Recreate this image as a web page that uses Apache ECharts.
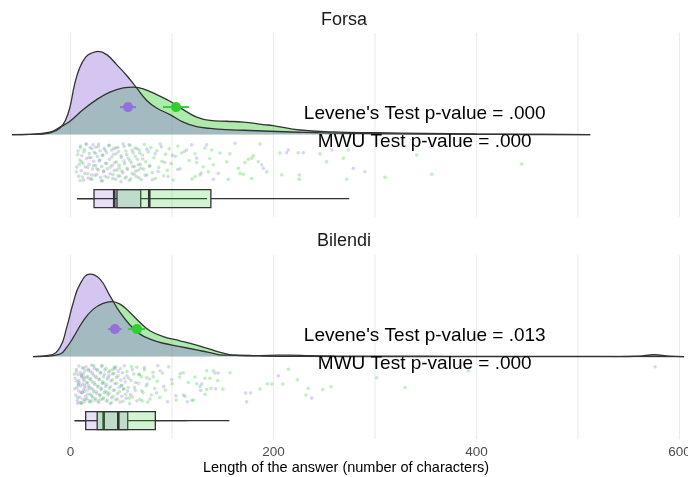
<!DOCTYPE html>
<html><head><meta charset="utf-8">
<script src="https://cdn.jsdelivr.net/npm/echarts@6/dist/echarts.min.js"></script>
<style>html,body{margin:0;padding:0;background:#fff}#c{width:688px;height:477px}</style>
</head><body><div id="c"></div>
<script>
// ---------------- DATA ----------------
const panels = ['Forsa', 'Bilendi'];
const xTicks = [0, 200, 400, 600];
const xGridLines = [0, 100, 200, 300, 400, 500, 600];
const xTitle = 'Length of the answer (number of characters)';

// density curves: [length, relative density]
const forsaDensityPurple = [[-57.6,0],[-40,0.002],[-26.8,0.008],[-18,0.03],[-10.3,0.08],[-5,0.17],[-0.5,0.33],[4,0.6],[9,0.8],[15,0.93],[21,0.98],[27.4,1.0],[35.7,0.96],[45.5,0.84],[55.4,0.71],[65.2,0.56],[75.1,0.41],[84.9,0.32],[98,0.24],[111.1,0.15],[124.3,0.095],[137.4,0.075],[153.9,0.06],[170.2,0.052],[196.6,0.04],[225,0.028],[250,0.02],[300,0.012],[350,0.007],[400,0.003],[450,0.001],[512,0]];
const forsaDensityGreen = [[-57.6,0],[-40,0.003],[-20.2,0.028],[-10.3,0.09],[-0.5,0.16],[12.6,0.30],[25.8,0.42],[38.9,0.51],[52,0.56],[61.9,0.57],[71.7,0.55],[84.9,0.48],[98,0.40],[111.1,0.30],[124.3,0.21],[137.4,0.17],[153.9,0.16],[170.2,0.15],[190,0.12],[199.5,0.108],[226,0.055],[258.6,0.032],[300,0.022],[350,0.014],[400,0.007],[450,0.003],[512,0]];
const bilendiDensityPurple = [[-36.7,0],[-20.2,0.017],[-10.3,0.11],[-3.7,0.35],[2.8,0.65],[9.4,0.87],[19.2,0.99],[29.1,0.93],[38.9,0.73],[48.8,0.53],[58.6,0.38],[68.5,0.27],[78.3,0.21],[91.4,0.16],[107.9,0.12],[124.3,0.08],[137.4,0.048],[150.5,0.017],[163.7,0.018],[176.8,0.015],[189.7,0.006],[230,0.002],[300,0],[540,0],[560,0.006],[575,0.022],[590,0.006],[604.5,0]];
const bilendiDensityGreen = [[-36.7,0],[-26.8,0.002],[-10.3,0.029],[-3.7,0.11],[2.8,0.23],[12.6,0.43],[22.5,0.57],[32.3,0.64],[40.6,0.66],[48.8,0.63],[58.6,0.53],[68.5,0.41],[78.3,0.31],[91.4,0.24],[107.9,0.19],[124.3,0.137],[137.4,0.089],[150.5,0.041],[160.4,0.017],[173.6,0.01],[196.6,0.015],[216,0.018],[236,0.012],[260,0.008],[300,0.005],[350,0.004],[400,0.003],[500,0.002],[604.5,0]];

// raw answers: [length, jitter position within the rain band 0..1]
const forsaPointsPurple = [[6.2,.62],[7.5,.21],[8.1,.85],[9.3,.44],[9.8,.08],[10.6,.71],[11.2,.33],[12.9,.95],[12.4,.52],[13.7,.17],[14.1,.78],[15.8,.40],[15.2,.02],[16.9,.63],[17.3,.90],[18.6,.27],[18.1,.55],[19.4,.12],[20.7,.82],[20.2,.38],[21.8,.67],[22.3,.05],[22.9,.47],[21.1,.93],[23.4,.24],
[24.7,.58],[25.1,.11],[25.9,.81],[26.6,.35],[27.3,.69],[27.8,.03],[28.4,.46],[29.6,.88],[29.1,.20],[30.8,.60],[31.5,.97],[31.9,.31],[32.7,.74],[33.2,.14],[34.6,.52],[34.1,.86],[35.7,.25],[36.3,.66],[37.9,.07],[38.4,.42],[39.1,.79],[40.6,.18],[41.3,.57],[41.8,.91],[42.5,.29],[43.2,.70],
[44.8,.13],[45.3,.49],[46.9,.84],[47.4,.22],[48.2,.64],[49.7,.99],[50.1,.37],[51.6,.76],[52.8,.09],[53.3,.53],[54.9,.87],[55.4,.30],[56.2,.68],[57.7,.04],[58.5,.45],[59.3,.92],[60.8,.19],[61.4,.61],[62.7,.80],[63.9,.34],[64.2,.72],[65.6,.15],[66.8,.56],[67.3,.89],[68.1,.26],[69.4,.65],
[71.2,.41],[73.6,.83],[75.3,.16],[78.1,.59],[80.7,.94],[83.4,.28],[86.2,.73],[89.5,.10],[92.8,.50],[96.1,.86],[100.4,.32],[105.7,.68],[112.3,.22],[119.4,.05],[124.3,.39],[128.6,.77],[134.2,.05],
[140.7,.93],[145.6,.78],[162.1,.01],[188.4,.56],[190.0,.65],[213.0,.25],[214.6,.18],[229.4,.25],[225.4,.82],[257.3,.18],[278.6,.65],[290.1,.74]];
const forsaPointsGreen = [[5.8,.74],[7.1,.30],[8.6,.55],[9.4,.96],[9.9,.12],
[10.8,.48],[11.9,.87],[13.2,.23],[14.6,.61],[15.9,.04],[17.2,.79],[18.4,.37],[19.8,.92],[21.3,.15],[22.6,.58],[23.9,.83],[24.8,.27],[26.1,.66],[27.5,.09],[28.9,.44],[30.2,.97],[31.4,.32],[32.8,.71],[34.3,.19],[35.6,.53],[36.9,.88],[38.1,.06],[39.4,.62],[40.7,.36],[41.9,.81],[42.8,.14],[43.6,.50],[44.5,.93],[45.2,.28],[45.9,.69],
[46.8,.11],[47.9,.57],[48.7,.85],[49.8,.33],[50.6,.72],[51.9,.02],[52.7,.46],[53.8,.90],[54.6,.21],[55.7,.64],[56.9,.39],[57.8,.96],[58.6,.07],[59.9,.51],[60.7,.78],[61.8,.25],[62.9,.60],[63.7,.13],[64.8,.86],[65.9,.42],[66.7,.70],[67.8,.18],[68.9,.55],[69.7,.94],[70.8,.31],[71.9,.67],[72.8,.04],[74.1,.48],[75.3,.82],[76.6,.23],
[77.8,.59],[79.2,.12],[80.6,.76],[82.1,.38],[83.7,.91],[85.2,.20],[86.9,.63],[88.4,.03],[90.1,.47],[91.8,.84],[93.6,.29],[95.4,.70],[97.3,.15],[99.1,.53],[101.2,.95],[103.4,.34],[105.8,.08],[107.9,.66],[109.6,.26],[114.5,.18],[122.7,.28],[124.3,.50],[122.7,.86],[127.6,.82],[130.8,.61],[135.8,.74],[116.9,.45],[119.8,.92],[132.4,.13],[137.2,.40],
[139.1,.18],[140.7,.56],[147.3,.26],[157.1,.28],[153.9,.48],[155.5,.93],[165.3,.65],[167.0,.78],[170.2,.80],[171.9,.50],[175.2,.42],[178.5,.39],[180.1,.33],[186.7,.03],[185.0,.48],[178.5,.91],[193.3,.74],[206.4,.26],[224.4,.25],[208.1,.82],[225.4,.93],[245.8,.28],[252.4,.48],[268.8,.39],[273.7,.18],[272.1,.93],[309.9,.88],[341.1,.31],[355.9,.80],[444.5,.54]];
const bilendiPointsPurple = [[4.5,.34],[5.2,.77],[5.9,.12],[6.3,.58],[6.8,.91],[7.4,.25],[7.9,.66],[8.3,.03],[8.7,.45],[9.2,.83],[9.6,.19],[10.1,.54],[10.5,.97],[10.9,.31],[11.3,.72],[11.7,.08],[12.0,.49],[12.4,.88],[12.8,.22],[13.1,.63],[13.5,.40],[13.8,.94],[14.2,.15],[14.5,.57],[14.8,.80],[6.1,.42],[8.0,.51],[9.9,.70],[11.0,.27],[12.6,.36],[13.9,.68],[7.0,.98],
[15.3,.05],[15.8,.46],[16.2,.86],[16.7,.29],[17.1,.64],[17.6,.11],[18.0,.53],[18.5,.92],[19.0,.35],[19.4,.75],[19.9,.17],[20.4,.60],[20.9,.01],[21.4,.43],[21.9,.82],[22.5,.26],[23.0,.69],[23.6,.09],[24.1,.50],[24.7,.90],[25.3,.33],[25.9,.73],[26.5,.14],[27.1,.56],[27.7,.96],[28.3,.38],[28.9,.79],[29.5,.21],[30.1,.62],[30.8,.04],[31.4,.47],[32.0,.87],[32.6,.30],
[33.3,.71],[34.0,.13],[34.7,.55],[35.4,.93],[36.1,.36],[36.9,.77],[37.6,.18],[38.4,.59],[39.1,.99],[39.9,.41],[40.6,.84],[41.4,.23],[42.2,.65],[43.0,.06],[43.8,.48],[44.6,.89],[45.4,.32],[46.2,.74],[47.1,.16],[47.9,.57],[48.8,.95],[49.6,.39],[50.5,.80],[51.3,.20],[52.2,.61],[53.1,.02],[53.9,.44],[54.8,.85],[55.7,.28],[56.3,.67],[44.0,.10],[38.0,.27],[50.0,.53],
[57.5,.34],[59.2,.76],[61.0,.12],[63.1,.58],[65.4,.92],[67.8,.24],[70.2,.66],[72.9,.07],[75.5,.49],[78.4,.87],[81.6,.30],[84.9,.71],[88.3,.15],[91.8,.55],[95.6,.94],[99.7,.38],[103.9,.79],[108.2,.22],[112.8,.80],[115.1,.94],[64.0,.45],[86.0,.02],
[128.3,.65],[129.3,.49],[142.4,.21],[143.0,.61],[145.6,.21],[172.6,.72],[177.5,.72],[173.6,.94],[204.7,.28],[237.6,.85],[575.9,.05]];
const bilendiPointsGreen = [[4.2,.61],[5.6,.18],[6.9,.83],[8.2,.40],[9.5,.97],[10.7,.26],[11.8,.70],[12.9,.08],[13.9,.52],[14.9,.89],[15.8,.33],[16.7,.75],[17.6,.14],[18.4,.58],[19.2,.95],[20.0,.37],[20.8,.79],[21.5,.21],[22.2,.63],[22.9,.02],[23.6,.46],[24.2,.86],[24.8,.29],[25.4,.68],[25.9,.11],[7.7,.50],[13.3,.31],[17.0,.45],[21.1,.92],[3.8,.24],[11.2,.98],
[26.9,.54],[27.6,.92],[28.3,.36],[29.0,.76],[29.7,.19],[30.4,.60],[31.1,.01],[31.9,.43],[32.6,.84],[33.4,.24],[34.1,.67],[34.9,.09],[35.7,.50],[36.4,.90],[37.2,.32],[38.0,.73],[38.8,.15],[39.6,.56],[40.4,.96],[41.2,.38],[42.0,.80],[42.9,.22],[43.7,.64],[44.5,.05],[45.4,.47],[46.2,.87],[47.0,.28],[30.0,.88],[36.0,.70],[41.6,.12],[33.0,.47],
[48.1,.69],[49.3,.10],[50.5,.52],[51.8,.93],[53.0,.34],[54.3,.75],[55.6,.17],[56.9,.58],[58.2,.99],[59.6,.40],[61.0,.82],[62.4,.23],[63.8,.65],[65.3,.06],[66.8,.47],[68.3,.88],[69.8,.30],[71.4,.71],[73.0,.13],[74.6,.54],[76.2,.95],[77.9,.36],[79.6,.77],[81.3,.19],[83.0,.60],[52.5,.62],[60.2,.04],[67.5,.25],[75.0,.33],[57.8,.85],[70.6,.92],
[85.4,.42],[87.9,.83],[90.6,.21],[93.5,.64],[96.7,.05],[100.2,.48],[104.1,.90],[107.6,.31],[111.1,.20],[116.1,.45],[122.7,.31],[124.3,.48],[134.2,.15],[140.7,.15],[137.4,.34],[132.5,.34],[157.1,.20],[134.2,.63],[138.4,.60],[132.5,.75],[111.1,.77],[119.4,.91],[121.1,.90],[127.6,.55],[150.2,.62],[145.0,.40],
[186.7,.62],[193.9,.48],[198.2,.49],[209.1,.49],[214.6,.11],[223.5,.38],[234.3,.60],[232.0,.77],[248.5,.63],[256.7,.56],[301.7,.33],[329.6,.58],[392.0,.15]];

// means with interval: [mean, low, high]
const forsaMeans = [[56.7,48.8,64.5],[104.0,91.1,116.7]];
const bilendiMeans = [[43.8,37.2,50.4],[65.5,56.9,73.4]];
// box statistics: [whisker low, Q1, median, Q3, whisker high]
const forsaBoxes = [[6.4,23.2,43.1,69.2,134.6],[6.4,45.8,77.6,138.3,274.6]];
const bilendiBoxes = [[4.4,15.0,32.7,56.4,115.0],[3.8,26.3,47.1,83.6,156.6]];
// test results
const leveneP = ['.000', '.013'];
const mwuP = ['.000', '.000'];

// ---------------- STYLE / LAYOUT ----------------
const FONT = '"Liberation Sans", Arial, Helvetica, sans-serif';
const COLORS = ['#9370DB', '#32CD32'];
const FILL_DENS = ['rgba(147,112,219,0.4)', 'rgba(50,205,50,0.4)'];
const FILL_BOX = ['rgba(147,112,219,0.22)', 'rgba(50,205,50,0.22)'];
const FILL_PT = ['rgba(147,112,219,0.38)', 'rgba(50,205,50,0.38)'];
const Y_MIN = -0.99, Y_MAX = 1.22;
const X_MIN = -64.5, X_MAX = 604.4;
const MEAN_Y = 0.33, JIT_TOP = -0.1, JIT_SPAN = 0.47, BOX_Y = -0.77, BOX_H = 0.108;
const NOTE_X = 349, NOTE_Y = [0.25, -0.085];

const densities = [[forsaDensityPurple, forsaDensityGreen], [bilendiDensityPurple, bilendiDensityGreen]];
const points = [[forsaPointsPurple, forsaPointsGreen], [bilendiPointsPurple, bilendiPointsGreen]];
const means = [forsaMeans, bilendiMeans];
const boxes = [forsaBoxes, bilendiBoxes];
const gridTops = [33, 255];

const grid = gridTops.map(t => ({left: 5, width: 679, top: t, height: 184, outerBoundsMode: 'none', containLabel: false}));
const xAxis = gridTops.map((t, i) => ({
  type: 'value', gridIndex: i, min: X_MIN, max: X_MAX,
  axisLine: {show: false}, axisTick: {show: false}, splitLine: {show: false},
  axisLabel: {show: i === 1, color: '#4d4d4d', fontSize: 13.5, fontFamily: FONT, margin: 6,
    customValues: xTicks, formatter: v => String(v)}
}));
const yAxis = gridTops.map((t, i) => ({type: 'value', gridIndex: i, min: Y_MIN, max: Y_MAX, show: false}));

const series = [];
for (let p = 0; p < 2; p++) {
  const ax = {xAxisIndex: p, yAxisIndex: p};
  // grid lines (behind everything)
  series.push(Object.assign({
    type: 'custom', silent: true, z: 0,
    data: xGridLines.map(v => [v]),
    encode: {x: 0},
    renderItem: (params, api) => {
      const t = api.coord([api.value(0), Y_MAX]), b = api.coord([api.value(0), Y_MIN]);
      return {type: 'line', shape: {x1: t[0], y1: t[1], x2: b[0], y2: b[1]}, style: {stroke: '#ebebeb', lineWidth: 1.1}};
    }
  }, ax));
  // densities: green first, purple on top
  [1, 0].forEach(g => {
    series.push(Object.assign({
      type: 'line', data: densities[p][g], smooth: 0.45, symbol: 'none',
      lineStyle: {color: '#333333', width: 1.3}, areaStyle: {color: FILL_DENS[g], opacity: 1},
      silent: true, z: 2
    }, ax));
  });
  // rain points
  [0, 1].forEach(g => {
    series.push(Object.assign({
      type: 'scatter', data: points[p][g].map(d => [d[0], JIT_TOP - d[1] * JIT_SPAN]),
      symbolSize: 3.6, itemStyle: {color: FILL_PT[g]}, silent: true, z: 3
    }, ax));
  });
  // boxplots
  series.push(Object.assign({
    type: 'custom', z: 4, silent: true,
    data: boxes[p].map((b, g) => b.concat([g])),
    encode: {x: [0, 4], y: 5},
    renderItem: (params, api) => {
      const lo = api.value(0), q1 = api.value(1), md = api.value(2), q3 = api.value(3), hi = api.value(4), g = api.value(5);
      const a = api.coord([lo, BOX_Y]), b = api.coord([q1, BOX_Y + BOX_H]), c = api.coord([q3, BOX_Y - BOX_H]);
      const m = api.coord([md, BOX_Y]), h = api.coord([hi, BOX_Y]);
      const ln = {stroke: '#333333', lineWidth: 1.3};
      return {type: 'group', children: [
        {type: 'line', shape: {x1: a[0], y1: a[1], x2: b[0], y2: a[1]}, style: ln},
        {type: 'line', shape: {x1: c[0], y1: a[1], x2: h[0], y2: a[1]}, style: ln},
        {type: 'rect', shape: {x: b[0], y: b[1], width: c[0] - b[0], height: c[1] - b[1]},
          style: {fill: FILL_BOX[g], stroke: '#333333', lineWidth: 1.3}},
        {type: 'line', shape: {x1: m[0], y1: b[1], x2: m[0], y2: c[1]}, style: {stroke: '#333333', lineWidth: 2.6}}
      ]};
    }
  }, ax));
  // means with error bars
  series.push(Object.assign({
    type: 'custom', z: 5, silent: true,
    data: means[p].map((m, g) => m.concat([g])),
    encode: {x: [0, 1, 2], y: 3},
    renderItem: (params, api) => {
      const g = api.value(3);
      const c = api.coord([api.value(0), MEAN_Y]), l = api.coord([api.value(1), MEAN_Y]), r = api.coord([api.value(2), MEAN_Y]);
      return {type: 'group', children: [
        {type: 'line', shape: {x1: l[0], y1: l[1], x2: r[0], y2: r[1]}, style: {stroke: COLORS[g], lineWidth: 2}},
        {type: 'circle', shape: {cx: c[0], cy: c[1], r: 5}, style: {fill: COLORS[g]}}
      ]};
    }
  }, ax));
  // annotations (test results)
  const notes = ["Levene's Test p-value = " + leveneP[p], 'MWU Test p-value = ' + mwuP[p]];
  series.push(Object.assign({
    type: 'custom', silent: true, z: 6,
    data: notes.map((s, k) => [NOTE_X, k]),
    encode: {x: 0},
    renderItem: (params, api) => {
      const k = api.value(1);
      const pt = api.coord([api.value(0), NOTE_Y[k]]);
      return {type: 'text', x: pt[0], y: pt[1],
        style: {text: notes[k], fill: '#000000', fontSize: 19, fontFamily: FONT, align: 'center', verticalAlign: 'middle'}};
    }
  }, ax));
}

const chart = echarts.init(document.getElementById('c'), null, {renderer: 'canvas'});
chart.setOption({
  animation: false,
  backgroundColor: '#ffffff',
  textStyle: {fontFamily: FONT},
  title: [
    {text: panels[0], left: 'center', top: 11, padding: 0, textStyle: {fontSize: 18, fontWeight: 'normal', color: '#1a1a1a', fontFamily: FONT}},
    {text: panels[1], left: 'center', top: 232, padding: 0, textStyle: {fontSize: 18, fontWeight: 'normal', color: '#1a1a1a', fontFamily: FONT}}
  ],
  graphic: [{type: 'text', x: 346, y: 468, style: {text: xTitle, fontSize: 14.5, fontFamily: FONT, fill: '#000', align: 'center', verticalAlign: 'middle'}}],
  grid, xAxis, yAxis, series
});
</script>
</body></html>
